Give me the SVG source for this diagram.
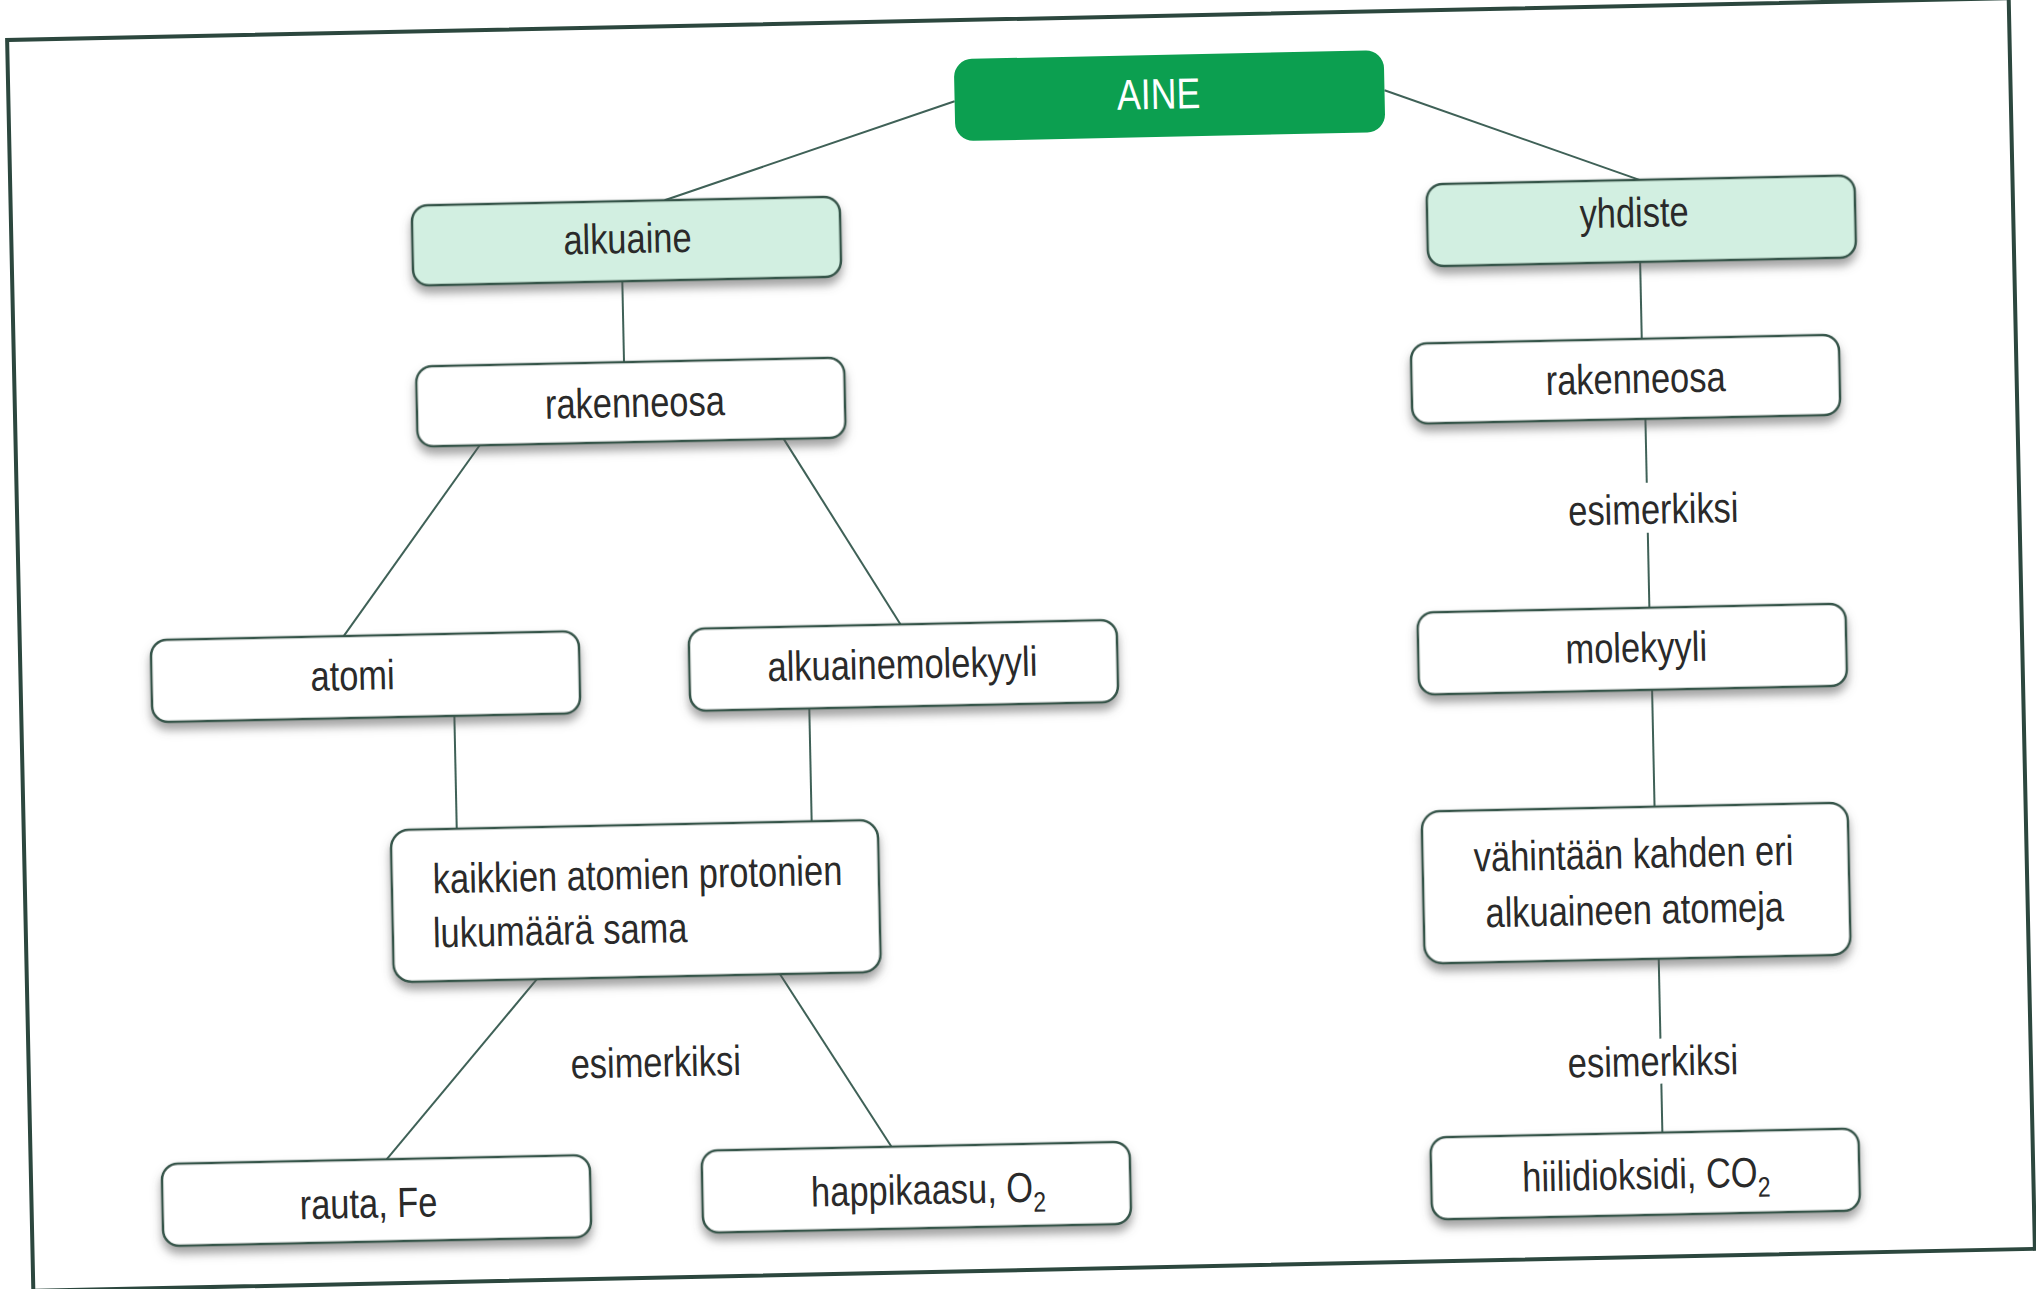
<svg xmlns="http://www.w3.org/2000/svg" width="2036" height="1289" viewBox="0 0 2036 1289">
<defs>
<filter id="sh" x="-10%" y="-20%" width="120%" height="150%">
<feDropShadow dx="0" dy="7" stdDeviation="5" flood-color="#555" flood-opacity="0.55"/>
</filter>
<style>
.box{fill:#ffffff;stroke:#34544a;stroke-width:2.5;filter:url(#sh)}
.lg{fill:#d2efe1;stroke:#34544a;stroke-width:2.5;filter:url(#sh)}
.top{fill:#0c9f50;stroke:none}
.t{font-family:'Liberation Sans',Arial,sans-serif;font-size:42px;fill:#2a2a2a;text-anchor:middle}
.tl{font-family:'Liberation Sans',Arial,sans-serif;font-size:42px;fill:#2a2a2a}
.w{fill:#ffffff;font-size:43px}
.sub{font-size:28px}
.c{stroke:#3f6157;stroke-width:2;fill:none}
.frame{fill:none;stroke:#2c473e;stroke-width:4}
</style>
</defs>
<rect width="2036" height="1289" fill="#ffffff"/>
<g id="diagram" transform="rotate(-1.2 1018 644)">
<rect class="frame" x="20" y="19" width="2002" height="1251"/>
<g id="connectors">
<line class="c" x1="966" y1="100" x2="674" y2="193"/>
<line class="c" x1="1396" y1="98" x2="1649" y2="193"/>
<line class="c" x1="630" y1="273" x2="630" y2="354"/>
<line class="c" x1="484" y1="434" x2="344" y2="622"/>
<line class="c" x1="788" y1="434" x2="901" y2="622"/>
<line class="c" x1="453" y1="704" x2="453" y2="817"/>
<line class="c" x1="808" y1="704" x2="808" y2="817"/>
<line class="c" x1="530" y1="969" x2="376" y2="1146"/>
<line class="c" x1="773" y1="969" x2="881" y2="1144"/>
<line class="c" x1="1648" y1="275" x2="1648" y2="352"/>
<line class="c" x1="1650" y1="432" x2="1650" y2="496"/>
<line class="c" x1="1650" y1="546" x2="1650" y2="621"/>
<line class="c" x1="1651" y1="703" x2="1651" y2="820"/>
<line class="c" x1="1652" y1="972" x2="1652" y2="1052"/>
<line class="c" x1="1652" y1="1097" x2="1652" y2="1146"/>
<text class="t" transform="translate(1656 537) scale(0.82 1)">esimerkiksi</text>
<text class="t" transform="translate(1644 1089) scale(0.82 1)">esimerkiksi</text>
<text class="t" transform="translate(647 1069) scale(0.82 1)">esimerkiksi</text>
</g>
<g id="n-aine">
<rect class="top" x="966" y="58" width="430" height="82" rx="18"/>
<text class="t w" transform="translate(1170 112) scale(0.83 1)">AINE</text>
</g>
<g id="n-alkuaine">
<rect class="lg" x="421" y="193" width="428" height="80" rx="16"/>
<text class="t" transform="translate(636 245) scale(0.82 1)">alkuaine</text>
</g>
<g id="n-yhdiste">
<rect class="lg" x="1436" y="193" width="428" height="82" rx="16"/>
<text class="t" transform="translate(1643 240) scale(0.82 1)">yhdiste</text>
</g>
<g id="n-rakenneosa-l">
<rect class="box" x="422" y="354" width="428" height="80" rx="16"/>
<text class="t" transform="translate(640 409) scale(0.82 1)">rakenneosa</text>
</g>
<g id="n-rakenneosa-r">
<rect class="box" x="1417" y="352" width="428" height="80" rx="16"/>
<text class="t" transform="translate(1641 406) scale(0.82 1)">rakenneosa</text>
</g>
<g id="n-atomi">
<rect class="box" x="151" y="622" width="428" height="82" rx="16"/>
<text class="t" transform="translate(352 676) scale(0.82 1)">atomi</text>
</g>
<g id="n-alkuainemolekyyli">
<rect class="box" x="689" y="622" width="428" height="82" rx="16"/>
<text class="t" transform="translate(902 676) scale(0.82 1)">alkuainemolekyyli</text>
</g>
<g id="n-molekyyli">
<rect class="box" x="1418" y="621" width="428" height="82" rx="16"/>
<text class="t" transform="translate(1636 675) scale(0.82 1)">molekyyli</text>
</g>
<g id="n-kaikkien">
<rect class="box" x="387" y="817" width="487" height="152" rx="18"/>
<text class="tl" transform="translate(428 881) scale(0.82 1)">kaikkien atomien protonien</text>
<text class="tl" transform="translate(427 935) scale(0.82 1)">lukumäärä sama</text>
</g>
<g id="n-vahintaan">
<rect class="box" x="1418" y="820" width="426" height="152" rx="18"/>
<text class="t" transform="translate(1629 881) scale(0.82 1)">vähintään kahden eri</text>
<text class="t" transform="translate(1629 937) scale(0.82 1)">alkuaineen atomeja</text>
</g>
<g id="n-rauta">
<rect class="box" x="151" y="1146" width="428" height="82" rx="16"/>
<text class="t" transform="translate(357 1204) scale(0.82 1)">rauta, Fe</text>
</g>
<g id="n-happikaasu">
<rect class="box" x="691" y="1144" width="428" height="82" rx="16"/>
<text class="t" transform="translate(917 1202) scale(0.82 1)">happikaasu, O<tspan class="sub" dy="10">2</tspan></text>
</g>
<g id="n-hiilidioksidi">
<rect class="box" x="1420" y="1146" width="428" height="82" rx="16"/>
<text class="t" transform="translate(1635 1202) scale(0.82 1)">hiilidioksidi, CO<tspan class="sub" dy="10">2</tspan></text>
</g>
</g>
</svg>
